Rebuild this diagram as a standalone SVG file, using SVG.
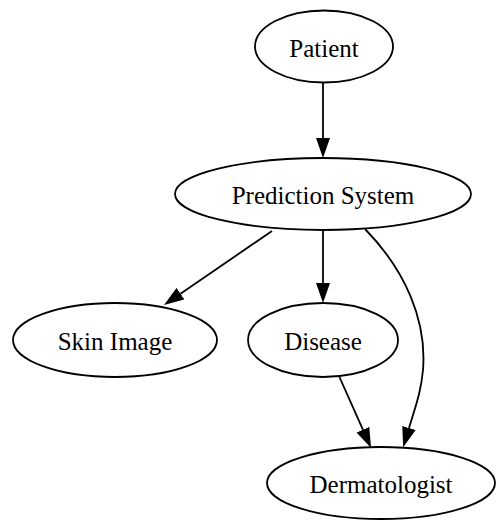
<svg xmlns="http://www.w3.org/2000/svg" width="496" height="520" viewBox="0 0 496 520">
<defs>
<style>
.node ellipse{fill:#fff;stroke:#000;stroke-width:1.8}
.node text{font-family:"Liberation Serif","Times New Roman",serif;font-size:25px;text-anchor:middle;fill:#000}
.edge{fill:none;stroke:#000;stroke-width:1.8}
</style>
<marker id="arr" viewBox="0 0 20 14" markerWidth="20" markerHeight="14" refX="0" refY="7" markerUnits="userSpaceOnUse" orient="auto">
<path d="M0,0 L20,7 L0,14 z" fill="#000"/>
</marker>
</defs>
<rect width="496" height="520" fill="#fff"/>
<g id="edges">
<path class="edge" d="M323,83 L323,138" marker-end="url(#arr)"/>
<path class="edge" d="M272,231 L180.5,293.7" marker-end="url(#arr)"/>
<path class="edge" d="M323,230 L323,283" marker-end="url(#arr)"/>
<path class="edge" d="M339,376 L362.9,429.7" marker-end="url(#arr)"/>
<path class="edge" d="M365,229 C405,270 427,320 423,370 C421,392 416,405 409,428" marker-end="url(#arr)"/>
</g>
<g id="patient" class="node"><ellipse cx="324" cy="46.5" rx="69" ry="36"/><text x="324" y="57">Patient</text></g>
<g id="prediction" class="node"><ellipse cx="323" cy="194" rx="148" ry="36"/><text x="323" y="204">Prediction System</text></g>
<g id="skin" class="node"><ellipse cx="115" cy="340" rx="102" ry="37"/><text x="115" y="350">Skin Image</text></g>
<g id="disease" class="node"><ellipse cx="323" cy="340" rx="75" ry="37"/><text x="323" y="350">Disease</text></g>
<g id="dermatologist" class="node"><ellipse cx="381" cy="483" rx="114" ry="36"/><text x="381" y="493">Dermatologist</text></g>
</svg>
